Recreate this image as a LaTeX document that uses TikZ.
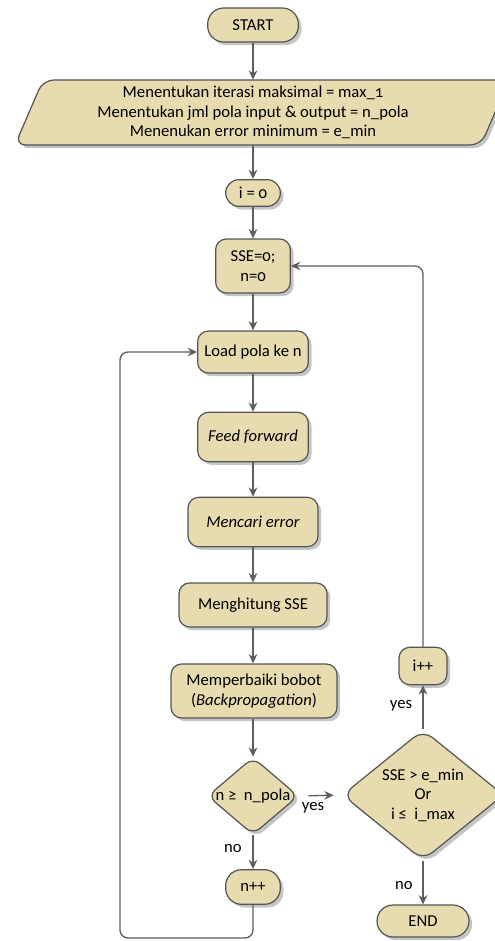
\documentclass[tikz,border=0pt]{standalone}
\usepackage{fontspec}
\setmainfont{Carlito}[Numbers=OldStyle]
\usetikzlibrary{shapes.geometric,shadows,arrows.meta}
\definecolor{relleno}{HTML}{E6DCB0}
\definecolor{borde}{HTML}{545454}
\definecolor{linea}{HTML}{5E5E5E}
\tikzset{
  caja/.style={draw=borde, line width=0.9pt, fill=relleno, rounded corners=8pt,
    align=center, inner sep=2pt, font=\fontsize{12.5}{14.6}\selectfont,
    drop shadow={shadow xshift=2.4pt, shadow yshift=-2.4pt, fill=black!45}},
  terminal/.style={caja, rounded corners=12pt},
  decision/.style={caja, shape=diamond, rounded corners=7pt, inner sep=0pt},
  flecha/.style={draw=linea, line width=1pt, -{Stealth[length=7pt,width=6.5pt]}},
  etiqueta/.style={font=\fontsize{12.5}{14.6}\selectfont, inner sep=1pt}
}
\begin{document}
\begin{tikzpicture}[x=0.75pt, y=-0.75pt]
\useasboundingbox (0,0) rectangle (494,941);

% Inicio y datos de entrada
\node[terminal, minimum width=68pt, minimum height=25.5pt] (inicio) at (253,25) {START};
\draw[draw=borde, line width=0.9pt, fill=relleno, rounded corners=8pt,
  drop shadow={shadow xshift=2.4pt, shadow yshift=-2.4pt, fill=black!45}]
  (43,80) -- (509,80) -- (481,145) -- (15,145) -- cycle;
\node[align=center, minimum height=48.75pt, inner sep=0pt, font=\fontsize{12.5}{14.6}\selectfont] (entrada) at (253,112.5)
  {Menentukan iterasi maksimal = max\_1\\
   Menentukan jml pola input \& output = n\_pola\\
   Menenukan error minimum = e\_min};

% Inicializaciones
\node[terminal, minimum width=41pt, minimum height=20pt, rounded corners=10pt] (iini) at (253,193) {i = 0};
\node[caja, minimum width=56pt, minimum height=40.5pt] (sse) at (253,266) {SSE=0;\\n=0};

% Cuerpo del entrenamiento
\node[caja, minimum width=83pt, minimum height=31.5pt] (cargar) at (253,352) {Load pola ke n};
\node[caja, minimum width=83pt, minimum height=37pt] (avance) at (253,437) {\itshape Feed forward};
\node[caja, minimum width=97.5pt, minimum height=37pt] (error) at (253,522) {\itshape Mencari error};
\node[caja, minimum width=111pt, minimum height=33pt] (calculo) at (253,605) {Menghitung SSE};
\node[caja, minimum width=124.5pt, minimum height=40.5pt] (bobot) at (254,691) {Memperbaiki bobot\\(\textit{Backpropagation})};

% Decisiones
\node[decision, minimum width=68pt, minimum height=58pt] (cek) at (253,796) {\makebox[0pt]{n ≥\ \ n\_pola}};
\node[terminal, minimum width=41pt, minimum height=26pt] (nmas) at (253,887) {n++};
\node[decision, minimum width=121pt, minimum height=98pt, rounded corners=9pt] (cond) at (423,795)
  {\makebox[0pt]{SSE > e\_min}\\Or\\\makebox[0pt]{i ≤\ \ i\_max}};
\node[caja, minimum width=36pt, minimum height=28pt] (imas) at (423,666) {i++};
\node[terminal, minimum width=69pt, minimum height=24pt] (fin) at (423,921) {END};
\coordinate (abajo) at (120,938);

% Conectores
\draw[flecha] (inicio) -- (entrada);
\draw[flecha] (entrada) -- (iini);
\draw[flecha] (iini) -- (sse);
\draw[flecha] (sse) -- (cargar);
\draw[flecha] (cargar) -- (avance);
\draw[flecha] (avance) -- (error);
\draw[flecha] (error) -- (calculo);
\draw[flecha] (calculo.south) -- (bobot.north -| calculo.south);
\draw[flecha] (bobot.south -| cek.north) -- (cek);
\draw[flecha] (cek) -- (nmas);
\draw[flecha, shorten <=7pt, shorten >=6pt] (cek.east) -- (cond.west);
\draw[flecha] (cond) -- (imas);
\draw[flecha] (cond) -- (fin);
\draw[flecha, rounded corners=6pt] (imas.north) |- (sse.east);
\draw[flecha, rounded corners=6pt] (nmas.south) |- (abajo) |- (cargar.west);

% Etiquetas
\node[etiqueta] (si1) at (313,808) {yes};
\node[etiqueta] (no1) at (233,849) {no};
\node[etiqueta] (si2) at (401,706) {yes};
\node[etiqueta] (no2) at (404,886) {no};
\end{tikzpicture}
\end{document}
